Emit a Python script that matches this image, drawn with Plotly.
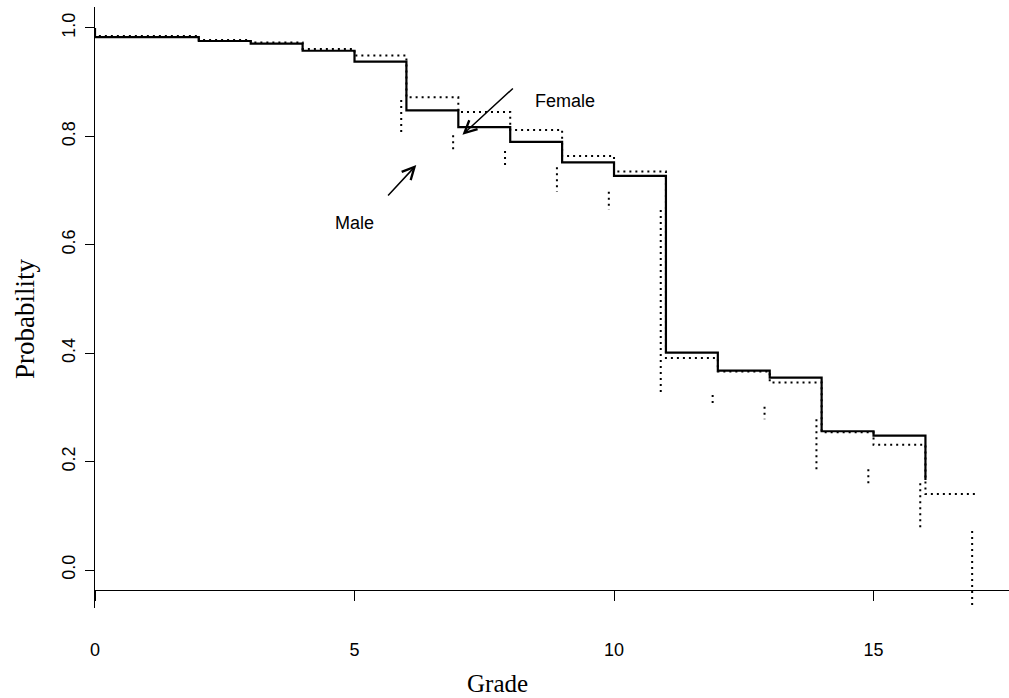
import plotly.graph_objects as go

# Step grades (survival drops at these grades)
grades = [0, 2, 3, 4, 5, 6, 7, 8, 9, 10, 11, 12, 13, 14, 15, 16]
male_prob = [0.983, 0.976, 0.971, 0.958, 0.938, 0.848, 0.817, 0.790, 0.752,
             0.727, 0.401, 0.368, 0.355, 0.256, 0.248, 0.166]
female_prob = [0.985, 0.978, 0.973, 0.961, 0.949, 0.872, 0.845, 0.812, 0.764,
               0.735, 0.391, 0.366, 0.346, 0.254, 0.231, 0.140]
female_end_grade = 17

# Extra dotted vertical drops seen beside the female curve (grade 6..17)
drop_grades = [6, 7, 8, 9, 10, 11, 12, 13, 14, 15, 16, 17]
drop_levels = [0.867, 0.802, 0.773, 0.743, 0.698, 0.664, 0.323, 0.301,
               0.278, 0.186, 0.160, 0.072, -0.065]

xticks = [0, 5, 10, 15]
yticks = [0.0, 0.2, 0.4, 0.6, 0.8, 1.0]
ytick_text = ["0.0", "0.2", "0.4", "0.6", "0.8", "1.0"]

DOT = "2px,4px"
SANS = "Arial, Liberation Sans, Helvetica, sans-serif"
SERIF = "Times New Roman, Liberation Serif, serif"

fig = go.Figure()

# Male: solid step curve
fig.add_trace(go.Scatter(
    x=[0] + grades, y=[1.0] + male_prob, mode="lines",
    line=dict(color="black", width=2.2, shape="hv"), name="Male",
    showlegend=False, hoverinfo="skip"))

# Female: dotted step curve
fig.add_trace(go.Scatter(
    x=[0] + grades + [female_end_grade],
    y=[1.0] + female_prob + [female_prob[-1]], mode="lines",
    line=dict(color="black", width=2, shape="hv", dash=DOT), name="Female",
    showlegend=False, hoverinfo="skip"))

# Extra dotted vertical segments
vx, vy = [], []
for i, g in enumerate(drop_grades):
    vx += [g - 0.1, g - 0.1, None]
    vy += [drop_levels[i], drop_levels[i + 1], None]
fig.add_trace(go.Scatter(
    x=vx, y=vy, mode="lines",
    line=dict(color="black", width=2, dash=DOT),
    showlegend=False, hoverinfo="skip"))

# Labels with arrows
fig.add_annotation(x=9.05, y=0.865, text="Female", showarrow=False,
                   font=dict(family=SANS, size=18, color="black"))
fig.add_annotation(x=5.0, y=0.640, text="Male", showarrow=False,
                   font=dict(family=SANS, size=18, color="black"))
fig.add_annotation(x=7.08, y=0.803, ax=8.08, ay=0.891, axref="x", ayref="y",
                   xref="x", yref="y", text="", showarrow=True,
                   arrowhead=5, arrowsize=1.6, arrowwidth=1.5, arrowcolor="black")
fig.add_annotation(x=6.19, y=0.747, ax=5.62, ay=0.688, axref="x", ayref="y",
                   xref="x", yref="y", text="", showarrow=True,
                   arrowhead=5, arrowsize=1.6, arrowwidth=1.5, arrowcolor="black")

# Axis titles
fig.add_annotation(x=-0.0766, y=0.481, xref="paper", yref="paper",
                   text="Probability", textangle=-90, showarrow=False,
                   xanchor="center", yanchor="middle",
                   font=dict(family=SERIF, size=27, color="black"))
fig.add_annotation(x=0.44, y=-0.125, xref="paper", yref="paper",
                   text="Grade", showarrow=False,
                   xanchor="center", yanchor="middle",
                   font=dict(family=SERIF, size=25, color="black"))

fig.update_layout(
    width=1009, height=698,
    margin=dict(l=95, r=0, t=7, b=90, pad=0),
    paper_bgcolor="white", plot_bgcolor="white",
    showlegend=False,
    xaxis=dict(
        range=[0, 17.61], tickvals=xticks, ticks="outside", ticklen=10,
        tickwidth=1, tickcolor="black", showline=True, linecolor="black",
        linewidth=1, mirror=True, showgrid=False, zeroline=False,
        anchor="free", position=0.02995,
        tickfont=dict(family=SANS, size=18, color="black"),
        ticklabelstandoff=33,
    ),
    yaxis=dict(
        range=[-0.0701, 1.0387], domain=[0, 1], tickvals=yticks,
        ticktext=ytick_text, tickangle=-90, ticks="outside", ticklen=9,
        tickwidth=1, tickcolor="black", showline=True, linecolor="black",
        linewidth=1, showgrid=False, zeroline=False,
        tickfont=dict(family=SANS, size=18, color="black"),
        ticklabelstandoff=3,
    ),
)

fig.write_html("out.html")
